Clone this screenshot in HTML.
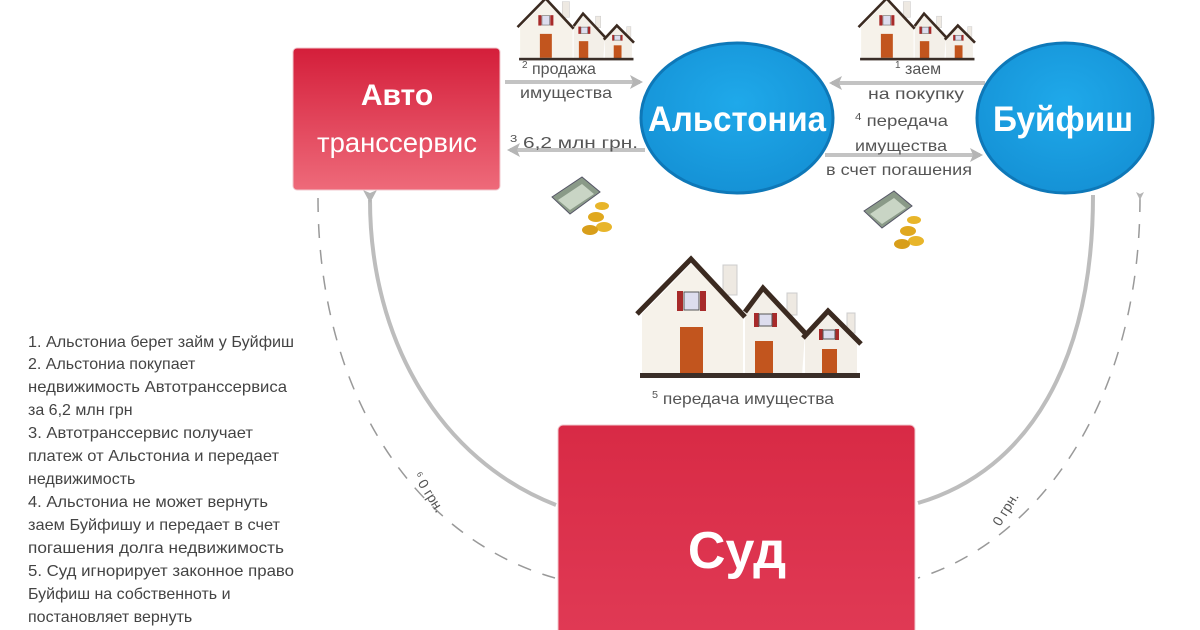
<!DOCTYPE html>
<html><head><meta charset="utf-8"><style>
html,body{margin:0;padding:0;background:#fff;}
svg{display:block;}
text{font-family:"Liberation Sans","DejaVu Sans",sans-serif;}
</style></head><body>
<svg width="1200" height="630" viewBox="0 0 1200 630" xmlns="http://www.w3.org/2000/svg">
<defs>
<linearGradient id="red" x1="0" y1="0" x2="0" y2="1">
<stop offset="0" stop-color="#d41e3a"/><stop offset="1" stop-color="#ee6a7a"/></linearGradient>
<linearGradient id="red2" x1="0" y1="0" x2="0" y2="1">
<stop offset="0" stop-color="#d82a45"/><stop offset="1" stop-color="#e03a55"/></linearGradient>
<radialGradient id="blue" cx="0.5" cy="0.4" r="0.6">
<stop offset="0" stop-color="#1fa9ea"/><stop offset="1" stop-color="#1592d6"/></radialGradient>
<marker id="ah" markerWidth="8" markerHeight="8" refX="6" refY="4" orient="auto" markerUnits="userSpaceOnUse">
<path d="M0,0 L8,4 L0,8 L2,4 Z" fill="#b5b5b5"/></marker>
<marker id="ahb" markerWidth="14" markerHeight="14" refX="10" refY="7" orient="auto" markerUnits="userSpaceOnUse">
<path d="M0,0 L13,7 L0,14 L3,7 Z" fill="#b5b5b5"/></marker>
<g id="houses">
<rect x="723" y="265" width="14" height="30" fill="#eee9e2" stroke="#ccc"/>
<rect x="787" y="293" width="10" height="22" fill="#eee9e2" stroke="#ccc"/>
<rect x="847" y="313" width="8" height="20" fill="#eee9e2" stroke="#ccc"/>
<path d="M642,314 L691,264 L743,314 L743,376 L642,376 Z" fill="#f6f2ea"/>
<path d="M745,312 L763,292 L805,333 L802,376 L745,376 Z" fill="#f3efe8"/>
<path d="M805,338 L828,315 L857,344 L857,376 L805,376 Z" fill="#f3efe8"/>
<path d="M637,314 L691,259 L745,317" fill="none" stroke="#3b2a20" stroke-width="5"/>
<path d="M745,312 L763,288 L805,333" fill="none" stroke="#3b2a20" stroke-width="5"/>
<path d="M803,338 L828,311 L861,344" fill="none" stroke="#3b2a20" stroke-width="5"/>
<rect x="680" y="327" width="23" height="46" fill="#c2551e"/>
<rect x="755" y="341" width="18" height="34" fill="#c2551e"/>
<rect x="822" y="349" width="15" height="27" fill="#c2551e"/>
<rect x="677" y="291" width="6" height="20" fill="#a72a2a"/><rect x="700" y="291" width="6" height="20" fill="#a72a2a"/>
<rect x="684" y="292" width="15" height="18" fill="#dde" stroke="#555"/>
<rect x="754" y="313" width="5" height="14" fill="#a72a2a"/><rect x="772" y="313" width="5" height="14" fill="#a72a2a"/>
<rect x="759" y="314" width="13" height="12" fill="#dde" stroke="#555"/>
<rect x="819" y="329" width="4" height="11" fill="#a72a2a"/><rect x="835" y="329" width="4" height="11" fill="#a72a2a"/>
<rect x="823" y="330" width="12" height="9" fill="#dde" stroke="#555"/>
<rect x="640" y="373" width="220" height="5" fill="#3a2e28"/>
</g>
<g id="money">
<path d="M0,25 L30,5 L48,20 L18,42 Z" fill="#8a9a88" stroke="#556" stroke-width="1"/>
<path d="M6,28 L30,12 L42,22 L18,38 Z" fill="#c9d5c5"/>
<ellipse cx="44" cy="45" rx="8" ry="5" fill="#e0a81e"/>
<ellipse cx="52" cy="55" rx="8" ry="5" fill="#e8b52a"/>
<ellipse cx="38" cy="58" rx="8" ry="5" fill="#d89e1a"/>
<ellipse cx="50" cy="34" rx="7" ry="4" fill="#e8b52a"/>
</g>
</defs>

<path d="M318,198 C318,400 420,540 555,578" fill="none" stroke="#999" stroke-width="1.5" stroke-dasharray="14 12"/>
<path d="M1140,198 C1140,400 1040,540 918,578" fill="none" stroke="#999" stroke-width="1.5" stroke-dasharray="14 12" marker-start="url(#ah)"/>
<path d="M370,200 C370,340 440,460 556,505" fill="none" stroke="#bdbdbd" stroke-width="4" marker-start="url(#ahb)"/>
<path d="M1093,195 C1093,360 1030,470 918,503" fill="none" stroke="#bdbdbd" stroke-width="4"/>

<line x1="505" y1="82" x2="640" y2="82" stroke="#c3c3c3" stroke-width="4" marker-end="url(#ahb)"/>
<line x1="645" y1="150" x2="510" y2="150" stroke="#c3c3c3" stroke-width="4" marker-end="url(#ahb)"/>
<line x1="985" y1="83" x2="832" y2="83" stroke="#c3c3c3" stroke-width="4" marker-end="url(#ahb)"/>
<line x1="825" y1="155" x2="980" y2="155" stroke="#c3c3c3" stroke-width="4" marker-end="url(#ahb)"/>

<rect x="293" y="48" width="207" height="142" rx="4" fill="url(#red)" stroke="#f0c9cf" stroke-width="1"/>
<text x="397" y="105" font-size="30" font-weight="bold" fill="#fff" text-anchor="middle">Авто</text>
<text x="397" y="152" font-size="28" fill="#fff" text-anchor="middle" textLength="160" lengthAdjust="spacingAndGlyphs">транссервис</text>

<ellipse cx="737" cy="118" rx="96" ry="75" fill="url(#blue)" stroke="#0e78b8" stroke-width="3"/>
<text x="737" y="131" font-size="35" font-weight="bold" fill="#fff" text-anchor="middle" textLength="178" lengthAdjust="spacingAndGlyphs">Альстониа</text>
<ellipse cx="1065" cy="118" rx="88" ry="75" fill="url(#blue)" stroke="#0e78b8" stroke-width="3"/>
<text x="1063" y="131" font-size="35" font-weight="bold" fill="#fff" text-anchor="middle" textLength="140" lengthAdjust="spacingAndGlyphs">Буйфиш</text>

<g font-size="16" fill="#555">
<text x="522" y="74"><tspan font-size="10" dy="-6">2</tspan><tspan dy="6"> продажа</tspan></text>
<text x="520" y="98" textLength="92" lengthAdjust="spacingAndGlyphs">имущества</text>
<text x="510" y="148" textLength="128" lengthAdjust="spacingAndGlyphs"><tspan font-size="10" dy="-6">3</tspan><tspan dy="6"> 6,2 млн грн.</tspan></text>
<text x="895" y="74"><tspan font-size="10" dy="-6">1</tspan><tspan dy="6"> заем</tspan></text>
<text x="868" y="99" textLength="96" lengthAdjust="spacingAndGlyphs">на покупку</text>
<text x="855" y="126" textLength="93" lengthAdjust="spacingAndGlyphs"><tspan font-size="10" dy="-6">4</tspan><tspan dy="6"> передача</tspan></text>
<text x="855" y="151" textLength="92" lengthAdjust="spacingAndGlyphs">имущества</text>
<text x="826" y="175" textLength="146" lengthAdjust="spacingAndGlyphs">в счет погашения</text>
<text x="652" y="404" textLength="182" lengthAdjust="spacingAndGlyphs"><tspan font-size="10" dy="-6">5</tspan><tspan dy="6"> передача имущества</tspan></text>
</g>

<use href="#houses"/>
<use href="#houses" transform="translate(517 -2) scale(0.52) translate(-636 -258)"/>
<use href="#houses" transform="translate(858 -2) scale(0.52) translate(-636 -258)"/>
<use href="#money" transform="translate(552 172)"/>
<use href="#money" transform="translate(864 186)"/>

<rect x="558" y="425" width="357" height="215" rx="5" fill="url(#red2)" stroke="#f0c9cf" stroke-width="1"/>
<text x="737" y="568" font-size="52" font-weight="bold" fill="#fff" text-anchor="middle">Суд</text>

<text transform="translate(413,476) rotate(58)" font-size="14" fill="#555"><tspan font-size="8" dy="-4">6</tspan><tspan dy="4"> 0 грн.</tspan></text>
<text transform="translate(1000,527) rotate(-58)" font-size="14" fill="#555">0 грн.</text>

<g font-size="16" fill="#444">
<text x="28" y="347" textLength="266" lengthAdjust="spacingAndGlyphs">1. Альстониа берет займ у Буйфиш</text>
<text x="28" y="369">2. Альстониа покупает</text>
<text x="28" y="392" textLength="259" lengthAdjust="spacingAndGlyphs">недвижимость Автотранссервиса</text>
<text x="28" y="415">за 6,2 млн грн</text>
<text x="28" y="438" textLength="225" lengthAdjust="spacingAndGlyphs">3. Автотранссервис получает</text>
<text x="28" y="461" textLength="251" lengthAdjust="spacingAndGlyphs">платеж от Альстониа и передает</text>
<text x="28" y="484">недвижимость</text>
<text x="28" y="507" textLength="240" lengthAdjust="spacingAndGlyphs">4. Альстониа не может вернуть</text>
<text x="28" y="530" textLength="252" lengthAdjust="spacingAndGlyphs">заем Буйфишу и передает в счет</text>
<text x="28" y="553" textLength="256" lengthAdjust="spacingAndGlyphs">погашения долга  недвижимость</text>
<text x="28" y="576" textLength="266" lengthAdjust="spacingAndGlyphs">5. Суд игнорирует законное право</text>
<text x="28" y="599">Буйфиш на собственноть и</text>
<text x="28" y="622">постановляет вернуть</text>
</g>
</svg>
</body></html>
